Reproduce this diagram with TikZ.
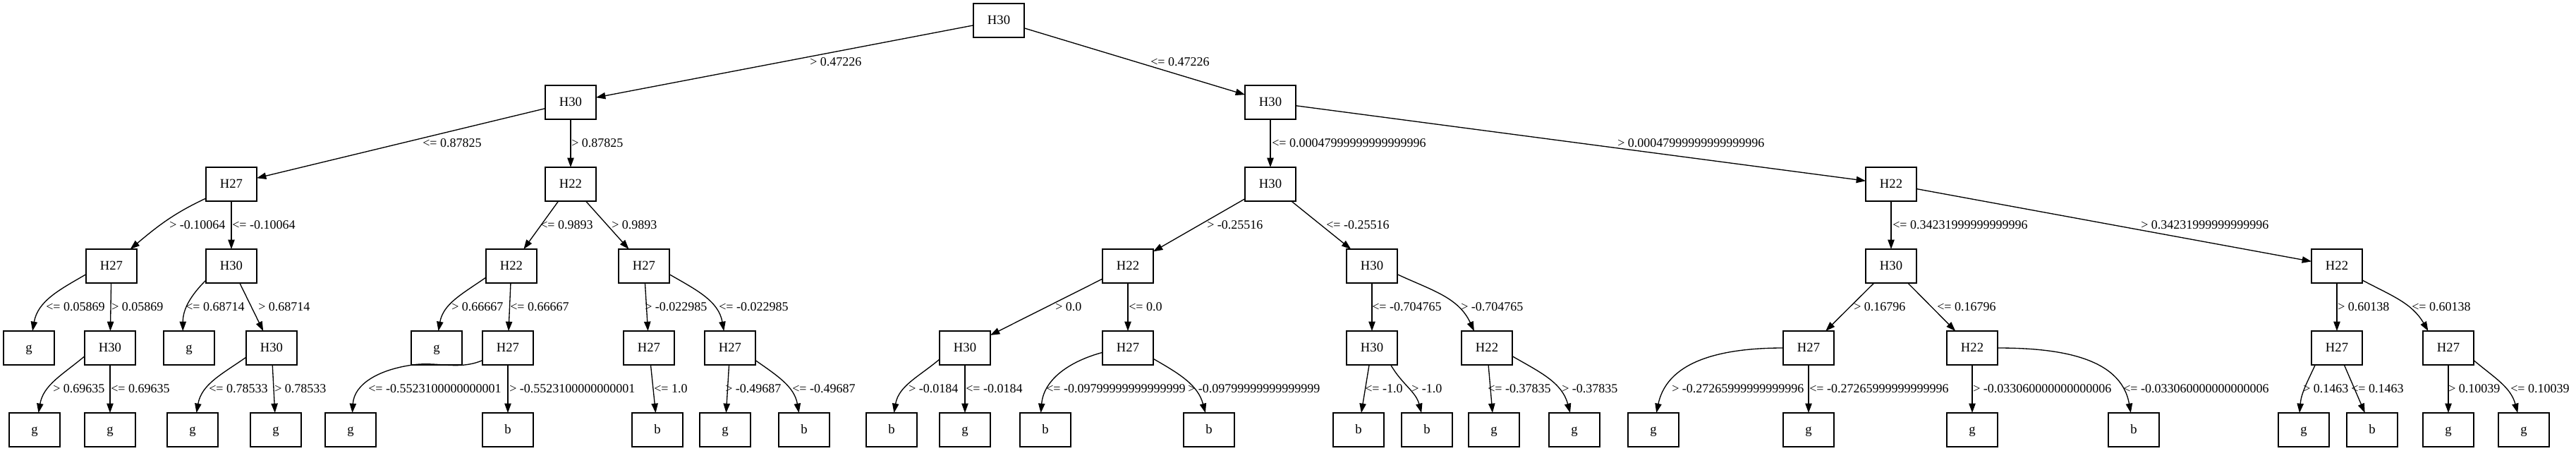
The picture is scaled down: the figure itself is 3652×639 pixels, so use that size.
\documentclass[tikz,border=0pt]{standalone}
\usepackage{fontspec}
\setmainfont{Liberation Serif}
\usetikzlibrary{arrows.meta}
\tikzset{
  bx/.style={draw, rectangle, line width=1pt, minimum width=54pt, minimum height=36pt,
    inner sep=0pt, outer sep=0pt, font=\fontsize{14}{16}\selectfont, text height=9.6pt, text depth=1pt},
  lb/.style={anchor=base west, inner sep=0pt, font=\fontsize{13.5}{16}\selectfont},
  conn/.style={draw, line width=1pt, -{Triangle[length=10pt,width=7pt]}}
}
\begin{document}
\begin{tikzpicture}[x=0.75pt,y=0.75pt]
\useasboundingbox (0,0) rectangle (3652,-639);
% level 0-1
\node[bx] (r) at (1416,-29) {H30};
\node[bx] (a) at (809,-145) {H30};
\node[bx] (b) at (1801,-145) {H30};
% level 2
\node[bx] (aa) at (328,-261) {H27};
\node[bx] (ab) at (809,-261) {H22};
\node[bx] (ba) at (1801,-261) {H30};
\node[bx] (bb) at (2681,-261) {H22};
% level 3
\node[bx] (aaa) at (158,-377) {H27};
\node[bx] (aab) at (328,-377) {H30};
\node[bx] (aba) at (725,-377) {H22};
\node[bx] (abb) at (913,-377) {H27};
\node[bx] (baa) at (1599,-377) {H22};
\node[bx] (bab) at (1945,-377) {H30};
\node[bx] (bba) at (2681,-377) {H30};
\node[bx] (bbb) at (3313,-377) {H22};
% level 4
\node[bx] (c1) at (41,-493) {g};
\node[bx] (c2) at (156,-493) {H30};
\node[bx] (c3) at (268,-493) {g};
\node[bx] (c4) at (385,-493) {H30};
\node[bx] (c5) at (619,-493) {g};
\node[bx] (c6) at (720,-493) {H27};
\node[bx] (c7) at (920,-493) {H27};
\node[bx] (c8) at (1035,-493) {H27};
\node[bx] (c9) at (1368,-493) {H30};
\node[bx] (c10) at (1599,-493) {H27};
\node[bx] (c11) at (1945,-493) {H30};
\node[bx] (c12) at (2108,-493) {H22};
\node[bx] (c13) at (2564,-493) {H27};
\node[bx] (c14) at (2796,-493) {H22};
\node[bx] (c15) at (3313,-493) {H27};
\node[bx] (c16) at (3471,-493) {H27};
% level 5
\node[bx] (d1) at (49,-609) {g};
\node[bx] (d2) at (156,-609) {g};
\node[bx] (d3) at (273,-609) {g};
\node[bx] (d4) at (391,-609) {g};
\node[bx] (d5) at (497,-609) {g};
\node[bx] (d6) at (720,-609) {b};
\node[bx] (d7) at (932,-609) {b};
\node[bx] (d8) at (1028,-609) {g};
\node[bx] (d9) at (1140,-609) {b};
\node[bx] (d10) at (1264,-609) {b};
\node[bx] (d11) at (1368,-609) {g};
\node[bx] (d12) at (1482,-609) {b};
\node[bx] (d13) at (1714,-609) {b};
\node[bx] (d14) at (1926,-609) {b};
\node[bx] (d15) at (2023,-609) {b};
\node[bx] (d16) at (2118,-609) {g};
\node[bx] (d17) at (2232,-609) {g};
\node[bx] (d18) at (2344,-609) {g};
\node[bx] (d19) at (2564,-609) {g};
\node[bx] (d20) at (2796,-609) {g};
\node[bx] (d21) at (3025,-609) {b};
\node[bx] (d22) at (3266,-609) {g};
\node[bx] (d23) at (3363,-609) {b};
\node[bx] (d24) at (3471,-609) {g};
\node[bx] (d25) at (3578,-609) {g};

% straight connectors
\draw[conn] (r) -- (a);
\draw[conn] (r) -- (b);
\draw[conn] (a) -- (aa);
\draw[conn] (a) -- (ab);
\draw[conn] (b) -- (ba);
\draw[conn] (b) -- (bb);
\draw[conn] (aa) -- (aab);
\draw[conn] (ab) -- (aba);
\draw[conn] (ab) -- (abb);
\draw[conn] (ba) -- (baa);
\draw[conn] (ba) -- (bab);
\draw[conn] (bb) -- (bba);
\draw[conn] (bb) -- (bbb);
\draw[conn] (aaa) -- (c2);
\draw[conn] (aab) -- (c4);
\draw[conn] (aba) -- (c6);
\draw[conn] (abb) -- (c7);
\draw[conn] (baa) -- (c9);
\draw[conn] (baa) -- (c10);
\draw[conn] (bab) -- (c11);
\draw[conn] (bba) -- (c13);
\draw[conn] (bba) -- (c14);
\draw[conn] (bbb) -- (c15);
\draw[conn] (c2) -- (d2);
\draw[conn] (c4) -- (d4);
\draw[conn] (c6) -- (d6);
\draw[conn] (c7) -- (d7);
\draw[conn] (c8) -- (d8);
\draw[conn] (c9) -- (d11);
\draw[conn] (c11) -- (d14);
\draw[conn] (c12) -- (d16);
\draw[conn] (c13) -- (d19);
\draw[conn] (c14) -- (d20);
\draw[conn] (c15) -- (d23);
\draw[conn] (c16) -- (d24);

% curved connectors
\draw[conn] (aa.-151) to[out=-155,in=40] (aaa.42);
\draw[conn] (aab.-151) to[out=-135,in=90] (c3.110);
\draw[conn] (aaa.-162) to[out=-150,in=80] (c1.78);
\draw[conn] (aba.-156) to[out=-145,in=80] (c5.84);
\draw[conn] (abb.-18) to[out=-30,in=100] (c8.110);
\draw[conn] (bab.-18) to[out=-25,in=115] (c12.127);
\draw[conn] (bbb.-29) to[out=-28,in=120] (c16.140);
\draw[conn] (c2.-162) to[out=-140,in=80] (d1.77);
\draw[conn] (c4.-160) to[out=-145,in=80] (d3.77);
\draw[conn] (c6.-154) .. controls (650,-525) and (620,-512) .. (585,-517)
                      .. controls (535,-524) and (502,-545) .. (d5.84);
\draw[conn] (c8.-26) to[out=-35,in=100] (d9.107);
\draw[conn] (c9.-156) to[out=-140,in=80] (d10.82);
\draw[conn] (c10.-170) to[out=-165,in=85] (d12.105);
\draw[conn] (c10.-23) to[out=-30,in=105] (d13.102);
\draw[conn] (c11.-42) to[out=-60,in=105] (d15.108);
\draw[conn] (c12.-18) to[out=-30,in=105] (d17.104);
\draw[conn] (c13.west) to[out=180,in=78] (d18.80);
\draw[conn] (c14.east) to[out=0,in=100] (d21.100);
\draw[conn] (c15.-142) to[out=-115,in=85] (d22.104);
\draw[conn] (c16.-26) to[out=-40,in=105] (d25.110);

% labels row 1
\node[lb] (t1) at (1148,-93) {> 0.47226};
\node[lb] (t2) at (1631,-93) {<= 0.47226};
% row 2
\node[lb] (t3) at (599,-208) {<= 0.87825};
\node[lb] (t4) at (810,-208) {> 0.87825};
\node[lb] (t5) at (1803,-208) {<= 0.00047999999999999996};
\node[lb] (t6) at (2293,-208) {> 0.00047999999999999996};
% row 3
\node[lb] (t7) at (240,-324) {> -0.10064};
\node[lb] (t8) at (329,-324) {<= -0.10064};
\node[lb] (t9) at (766,-324) {<= 0.9893};
\node[lb] (t10) at (867,-324) {> 0.9893};
\node[lb] (t11) at (1711,-324) {> -0.25516};
\node[lb] (t12) at (1880,-324) {<= -0.25516};
\node[lb] (t13) at (2683,-324) {<= 0.34231999999999996};
\node[lb] (t14) at (3035,-324) {> 0.34231999999999996};
% row 4
\node[lb] (t15) at (65,-440) {<= 0.05869};
\node[lb] (t16) at (158,-440) {> 0.05869};
\node[lb] (t17) at (263,-440) {<= 0.68714};
\node[lb] (t18) at (366,-440) {> 0.68714};
\node[lb] (t19) at (640,-440) {> 0.66667};
\node[lb] (t20) at (723,-440) {<= 0.66667};
\node[lb] (t21) at (914,-440) {> -0.022985};
\node[lb] (t22) at (1019,-440) {<= -0.022985};
\node[lb] (t23) at (1496,-440) {> 0.0};
\node[lb] (t24) at (1600,-440) {<= 0.0};
\node[lb] (t25) at (1945,-440) {<= -0.704765};
\node[lb] (t26) at (2071,-440) {> -0.704765};
\node[lb] (t27) at (2628,-440) {> 0.16796};
\node[lb] (t28) at (2746,-440) {<= 0.16796};
\node[lb] (t29) at (3314,-440) {> 0.60138};
\node[lb] (t30) at (3419,-440) {<= 0.60138};
% row 5
\node[lb] (t31) at (75,-556) {> 0.69635};
\node[lb] (t32) at (157,-556) {<= 0.69635};
\node[lb] (t33) at (296,-556) {<= 0.78533};
\node[lb] (t34) at (389,-556) {> 0.78533};
\node[lb] (t35) at (522,-556) {<= -0.5523100000000001};
\node[lb] (t36) at (722,-556) {> -0.5523100000000001};
\node[lb] (t37) at (927,-556) {<= 1.0};
\node[lb] (t38) at (1028,-556) {> -0.49687};
\node[lb] (t39) at (1123,-556) {<= -0.49687};
\node[lb] (t40) at (1288,-556) {> -0.0184};
\node[lb] (t41) at (1369,-556) {<= -0.0184};
\node[lb] (t42) at (1483,-556) {<= -0.09799999999999999};
\node[lb] (t43) at (1684,-556) {> -0.09799999999999999};
\node[lb] (t44) at (1935,-556) {<= -1.0};
\node[lb] (t45) at (2001,-556) {> -1.0};
\node[lb] (t46) at (2109,-556) {<= -0.37835};
\node[lb] (t47) at (2214,-556) {> -0.37835};
\node[lb] (t48) at (2370,-556) {> -0.27265999999999996};
\node[lb] (t49) at (2565,-556) {<= -0.27265999999999996};
\node[lb] (t50) at (2797,-556) {> -0.033060000000000006};
\node[lb] (t51) at (3010,-556) {<= -0.033060000000000006};
\node[lb] (t52) at (3265,-556) {> 0.1463};
\node[lb] (t53) at (3333,-556) {<= 0.1463};
\node[lb] (t54) at (3471,-556) {> 0.10039};
\node[lb] (t55) at (3559,-556) {<= 0.10039};
\end{tikzpicture}
\end{document}
